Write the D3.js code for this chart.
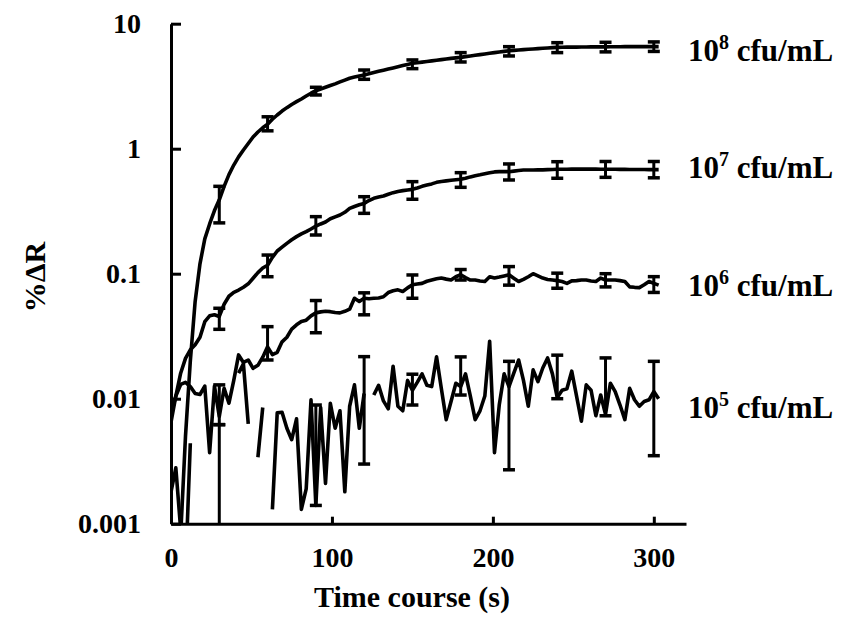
<!DOCTYPE html>
<html><head><meta charset="utf-8">
<script src="https://cdn.jsdelivr.net/npm/d3@7"></script>
<style>
body{margin:0;background:#fff}
svg text{font-family:"Liberation Serif","Times New Roman",serif;font-weight:bold;fill:#000}
</style>
</head><body>
<svg id="chart" width="844" height="623"></svg>
<script>
// sampling grid (s)
const times = d3.range(0, 304, 3);

// %ΔR traces, one value per time sample (null = not shown on log axis)
const r8 = [0.0003,0.0005,0.0008,0.005,0.02,0.06,0.12,0.19,0.25,0.32,
  0.39,0.5,0.62,0.74,0.86,0.976,1.1,1.24,1.36,1.47,
  1.57,1.72,1.86,2.0,2.13,2.26,2.38,2.5,2.64,2.78,
  2.91,3.0,3.1,3.2,3.3,3.42,3.54,3.66,3.74,3.82,
  3.89,3.98,4.07,4.16,4.25,4.34,4.43,4.52,4.62,4.72,
  4.82,4.87,4.93,4.98,5.04,5.1,5.16,5.22,5.28,5.33,
  5.38,5.45,5.52,5.59,5.66,5.73,5.8,5.87,5.94,6.01,
  6.08,6.12,6.16,6.2,6.24,6.28,6.32,6.36,6.4,6.44,
  6.47,6.48,6.49,6.5,6.5,6.51,6.51,6.52,6.52,6.53,
  6.53,6.54,6.54,6.54,6.55,6.55,6.55,6.55,6.55,6.55,
  6.55,6.55];
const r7 = [0.0065,0.0105,0.016,0.021,0.0246,0.027,0.031,0.0413,0.046,0.047,
  0.0455,0.057,0.066,0.071,0.074,0.078,0.083,0.092,0.102,0.111,
  0.117,0.135,0.152,0.163,0.175,0.187,0.198,0.208,0.217,0.228,
  0.24,0.25,0.259,0.275,0.285,0.295,0.31,0.333,0.345,0.356,
  0.365,0.385,0.401,0.41,0.418,0.432,0.445,0.455,0.462,0.468,
  0.473,0.485,0.5,0.512,0.523,0.538,0.547,0.553,0.56,0.565,
  0.569,0.58,0.595,0.608,0.618,0.63,0.642,0.652,0.655,0.656,
  0.655,0.662,0.67,0.676,0.676,0.676,0.677,0.677,0.68,0.682,
  0.684,0.685,0.685,0.686,0.686,0.687,0.686,0.686,0.686,0.685,
  0.685,0.684,0.684,0.683,0.683,0.682,0.682,0.681,0.681,0.68,
  0.68,0.68];
const r6 = [0.0075,0.0105,0.013,0.0135,0.0125,0.011,0.0108,0.0126,0.0037,0.0126,
  0.0072,0.0121,0.0092,0.014,0.0224,0.0195,0.0204,0.0175,0.0185,0.0215,
  0.026,0.0225,0.0235,0.0285,0.031,0.036,0.039,0.0415,0.0425,0.046,
  0.0486,0.0495,0.05,0.0497,0.049,0.0486,0.05,0.052,0.0636,0.06,
  0.0636,0.063,0.0636,0.064,0.0654,0.0707,0.073,0.0743,0.072,0.077,
  0.0815,0.0826,0.0837,0.087,0.089,0.091,0.0923,0.0905,0.089,0.0946,
  0.098,0.093,0.089,0.089,0.0875,0.0866,0.0946,0.0923,0.094,0.096,
  0.098,0.092,0.0866,0.09,0.0946,0.1,0.096,0.0923,0.09,0.089,
  0.088,0.0866,0.0837,0.0876,0.088,0.089,0.089,0.0875,0.0866,0.0923,
  0.089,0.089,0.089,0.088,0.0866,0.0784,0.0778,0.0774,0.0815,0.0866,
  0.0837,0.081];
const r5 = [0.0018,0.0028,0.0009,0.0004,0.0044,null,null,null,null,null,
  null,null,null,null,0.016,0.019,0.0063,null,0.0034,0.0085,
  null,0.0013,0.0077,0.0078,0.0058,0.0047,0.0069,0.0013,0.0019,0.0098,
  0.0014,0.0085,0.0021,0.0092,0.0058,0.008,0.0018,0.0087,0.0129,0.0058,
  0.011,null,0.0107,0.0128,0.0096,0.0083,0.0182,0.0087,0.008,0.014,
  0.0117,0.0135,0.0158,0.0128,0.0125,0.0216,0.012,0.0068,0.0095,0.0133,
  0.0125,0.0158,0.0105,0.0068,0.008,0.0105,0.0288,0.0037,0.009,0.0158,
  0.0125,0.016,0.0204,0.014,0.0087,0.017,0.0137,0.0176,0.0212,0.0158,
  0.0102,0.0117,0.012,0.0166,0.0105,0.0066,0.0129,0.0117,0.0073,0.0107,
  0.0075,0.0133,0.0114,0.0089,0.0068,0.0121,0.0098,0.0087,0.0095,0.0098,
  0.0114,0.010];

// error bars (low / high) at these times
const barTimes = [30,60,90,120,150,180,210,240,270,300];
const e8Lo = [0.255,1.39,2.69,3.59,4.37,4.94,5.52,5.87,5.95,6.0];
const e8Hi = [0.5,1.8,3.1,4.26,5.13,5.87,6.55,7.05,7.1,7.15];
const e7Lo = [0.0359,0.0946,0.204,0.304,0.394,0.491,0.562,0.58,0.59,0.585];
const e7Hi = [0.0529,0.141,0.286,0.413,0.545,0.643,0.755,0.787,0.79,0.79];
const e6Lo = [0.0062,0.0204,0.0337,0.0469,0.0636,0.089,0.081,0.0765,0.0784,0.0708];
const e6Hi = [0.0129,0.0377,0.061,0.0703,0.0977,0.108,0.114,0.101,0.1,0.0947];
const e5Lo = [0.0002,null,0.0014,0.003,0.0089,0.0107,0.0027,0.01,0.0073,0.0035];
const e5Hi = [0.0062,null,0.0089,0.0217,0.0157,0.0216,0.0199,0.0223,0.0212,0.0199];

const seriesExp = ["8","7","6","5"];
const yTicks = [0.001,0.01,0.1,1,10];
const xTicks = [0,100,200,300];
const xTitle = "Time course (s)";
const yTitle = "%ΔR";

const svg = d3.select("#chart");
const x = d3.scaleLinear().domain([0,320]).range([171,686]);
const y = d3.scaleLog().domain([0.001,10]).range([523.7,23.7]);

svg.append("defs").append("clipPath").attr("id","plotclip")
  .append("rect").attr("x",171).attr("y",0).attr("width",520).attr("height",523.7);

const plot = svg.append("g").attr("clip-path","url(#plotclip)");
const line = d3.line().defined(d=>d.v!=null).x(d=>x(d.t)).y(d=>y(d.v));

const series = [
  {vals:r8, lo:e8Lo, hi:e8Hi},
  {vals:r7, lo:e7Lo, hi:e7Hi},
  {vals:r6, lo:e6Lo, hi:e6Hi},
  {vals:r5, lo:e5Lo, hi:e5Hi}
];
series.forEach(s=>{
  const pts = times.map((t,i)=>({t, v:s.vals[i]}));
  plot.append("path").datum(pts).attr("d",line)
    .attr("fill","none").attr("stroke","#000").attr("stroke-width",3.6)
    .attr("stroke-linejoin","round");
});
series.forEach(s=>{
  barTimes.forEach((t,i)=>{
    if(s.lo[i]==null) return;
    const g = plot.append("g");
    const cx = x(t);
    g.append("line").attr("x1",cx).attr("x2",cx).attr("y1",y(s.lo[i])).attr("y2",y(s.hi[i]))
      .attr("stroke","#000").attr("stroke-width",3);
    [s.lo[i], s.hi[i]].forEach(v=>{
      g.append("line").attr("x1",cx-6).attr("x2",cx+6).attr("y1",y(v)).attr("y2",y(v))
        .attr("stroke","#000").attr("stroke-width",3.5);
    });
  });
});

// axes
const yAxis = d3.axisLeft(y).tickValues(yTicks).tickFormat(d=>String(d))
  .tickSizeInner(-10).tickSizeOuter(0).tickPadding(30);
const gy = svg.append("g").attr("transform","translate(171,0)").call(yAxis);
const xAxis = d3.axisBottom(x).tickValues(xTicks).tickFormat(d=>String(d))
  .tickSizeInner(-7).tickSizeOuter(0).tickPadding(23);
const gx = svg.append("g").attr("transform","translate(0,523.7)").call(xAxis);
[gx,gy].forEach(g=>{
  g.attr("font-family",null).attr("font-size",null);
  g.select(".domain").attr("stroke","#000").attr("stroke-width",3);
  g.selectAll(".tick line").attr("stroke","#000").attr("stroke-width",3);
  g.selectAll(".tick text").attr("font-size","28px").attr("fill","#000");
});

svg.append("text").attr("x",412).attr("y",607).attr("text-anchor","middle")
  .attr("font-size","30px").text(xTitle);
svg.append("text").attr("transform","translate(45,277) rotate(-90)").attr("text-anchor","middle")
  .attr("font-size","30px").text(yTitle);

const labelY = [61,178,296,418];
seriesExp.forEach((e,i)=>{
  const t = svg.append("text").attr("x",688).attr("y",labelY[i]).attr("font-size","31px");
  t.append("tspan").text("10");
  t.append("tspan").attr("dy",-12).attr("font-size","20px").text(e);
  t.append("tspan").attr("dy",12).text(" cfu/mL");
});
</script>
</body></html>
